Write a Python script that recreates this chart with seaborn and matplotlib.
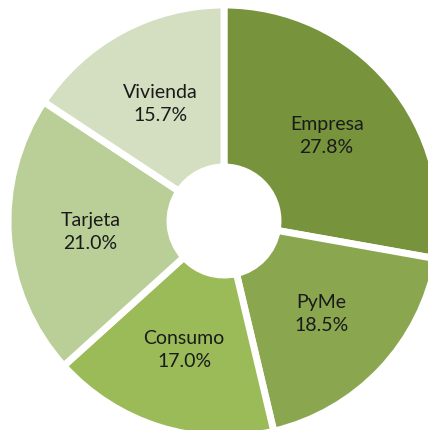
import matplotlib.pyplot as plt
import seaborn as sns

# data
categorias = ["Empresa", "PyMe", "Consumo", "Tarjeta", "Vivienda"]
porcentajes = [27.8, 18.5, 17.0, 21.0, 15.7]
colores = ["#77933c", "#8aa74f", "#9bbb59", "#bacf97", "#d3dfc0"]

sns.set_style("white")
plt.rcParams['font.family'] = ['Lato', 'DejaVu Sans']

W, H = 428, 431
R = 216          # pie radius in px
cx, cy = 224, 222  # centre, px from top-left

fig = plt.figure(figsize=(W / 100, H / 100), dpi=100)
ax = fig.add_axes([(cx - R) / W, (H - cy - R) / H, 2 * R / W, 2 * R / H])

labels_iter = iter(categorias)


def etiqueta(pct):
    return "{}\n{:.1f}%".format(next(labels_iter), pct)


wedges, texts, autotexts = ax.pie(
    porcentajes,
    colors=colores,
    startangle=90,
    counterclock=False,
    radius=1,
    autopct=etiqueta,
    pctdistance=0.62,
    wedgeprops=dict(width=0.75, edgecolor="white", linewidth=5),
    textprops=dict(fontsize=14, color="#1a1a1a", linespacing=1.45),
)
ax.set_xlim(-1, 1)
ax.set_ylim(-1, 1)
ax.axis("off")

fig.savefig("out.png", dpi=100)
